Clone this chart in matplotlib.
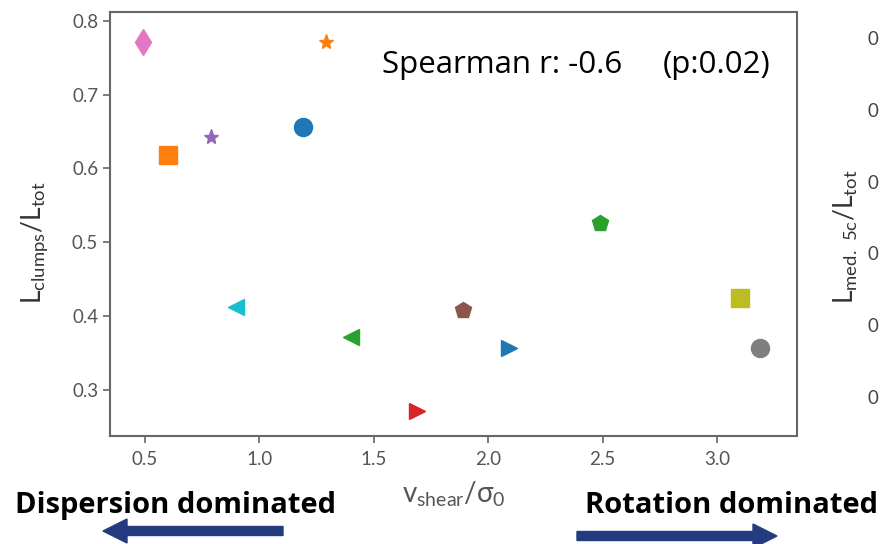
import matplotlib.pyplot as plt
from matplotlib.patches import FancyArrow
from matplotlib.transforms import IdentityTransform

plt.rcParams['font.family'] = ['Lato', 'DejaVu Sans']
plt.rcParams['mathtext.default'] = 'regular'

# v_shear/sigma_0 and clump light fraction, one entry per galaxy
v_ratio = [1.19, 0.60, 2.49, 1.69, 0.79, 1.89, 0.49, 3.19, 3.10, 0.90, 2.09, 1.29, 1.40]
clump_frac = [0.656, 0.618, 0.526, 0.271, 0.642, 0.408, 0.771, 0.357, 0.424, 0.412, 0.357, 0.771, 0.372]

markers = ['o', 's', 'p', '>', '*', 'p', 'd', 'o', 's', '<', '>', '*', '<']
colors = ['tab:blue', 'tab:orange', 'tab:green', 'tab:red', 'tab:purple', 'tab:brown',
          'tab:pink', 'tab:gray', 'tab:olive', 'tab:cyan', 'tab:blue', 'tab:orange', 'tab:green']
msizes = [13, 13, 12, 12, 11, 12, 13, 13, 13, 12, 12, 11, 12]

x_ticks = [0.5, 1.0, 1.5, 2.0, 2.5, 3.0]
y_ticks = [0.3, 0.4, 0.5, 0.6, 0.7, 0.8]
# next panel's ticks: only the leading digit fits on the page
med_ticks = [0.2, 0.3, 0.4, 0.5, 0.6, 0.7]
med_tick_labels = ['0', '0', '0', '0', '0', '0']

fig = plt.figure(figsize=(8.82, 5.44), dpi=100)
ax = fig.add_axes([0.1247, 0.1985, 0.7789, 0.7794])

for i in range(len(v_ratio)):
    ax.plot(v_ratio[i], clump_frac[i], marker=markers[i], color=colors[i],
            markersize=msizes[i], linestyle='none')

ax.set_xlim(0.347, 3.35)
ax.set_ylim(0.2377, 0.8118)
ax.set_xticks(x_ticks)
ax.set_yticks(y_ticks)
ax.tick_params(colors='#666666', labelcolor='#555555', labelsize=13.5, length=5, width=1.2)
ax.tick_params(axis='x', pad=6)
for s in ax.spines.values():
    s.set_color('#666666')
    s.set_linewidth(1.5)

ax.set_xlabel(r'$v_{shear}/\sigma_0$', fontsize=20, color='#555555', labelpad=8)
ax.set_ylabel(r'$L_{clumps}/L_{tot}$', fontsize=19, color='#333333')
ax.yaxis.set_label_coords(-0.088, 0.455)

# correlation result, split so the gap matches
ax.text(382 / 882, 1 - 73 / 544, 'Spearman r: -0.6', transform=fig.transFigure,
        ha='left', va='baseline', fontsize=22.5, family='Open Sans', color='black')
ax.text(770 / 882, 1 - 73 / 544, '(p:0.02)', transform=fig.transFigure,
        ha='right', va='baseline', fontsize=22.5, family='Open Sans', color='black')

# neighbouring panel, sits past the right edge
ax2 = fig.add_axes([1.009, 0.1985, 0.3, 0.7794])
ax2.set_ylim(med_ticks[0] - 0.0543, med_ticks[0] - 0.0543 + 0.5903)
ax2.set_yticks(med_ticks)
ax2.set_yticklabels(med_tick_labels)
ax2.set_xticks([])
ax2.tick_params(colors='#666666', labelcolor='#444444', labelsize=13.5, length=5)
ax2.set_ylabel(r'$L_{med.\ 5c}/L_{tot}$', fontsize=19, color='#333333')
ax2.yaxis.set_label_coords(0.975, 0.565, transform=fig.transFigure)

fig.text(15 / 882, 1 - 513 / 544, 'Dispersion dominated', fontsize=21, fontweight='bold',
         family='Open Sans', ha='left', va='baseline')
fig.text(1 - 4 / 882, 1 - 513 / 544, 'Rotation dominated', fontsize=21, fontweight='bold',
         family='Open Sans', ha='right', va='baseline')

navy = '#253b80'
fig.add_artist(FancyArrow(283, 13, -180, 0, width=9, head_width=24, head_length=24,
                          length_includes_head=True, color=navy, transform=IdentityTransform()))
fig.add_artist(FancyArrow(577, 8, 200, 0, width=9, head_width=24, head_length=24,
                          length_includes_head=True, color=navy, transform=IdentityTransform()))

fig.savefig('out.png', dpi=100)
